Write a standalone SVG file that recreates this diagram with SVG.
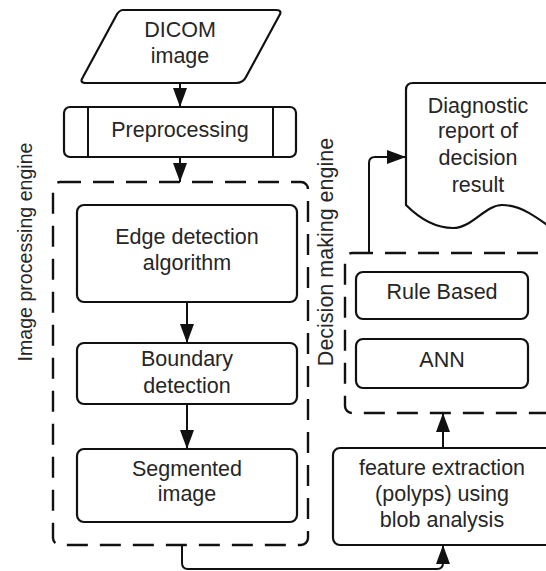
<svg xmlns="http://www.w3.org/2000/svg" width="546" height="571" viewBox="0 0 546 571">
  <defs>
    <marker id="arrow" markerUnits="userSpaceOnUse" markerWidth="20" markerHeight="14" refX="19" refY="7" orient="auto">
      <path d="M0,0 L19,7 L0,14 Z" fill="#111"/>
    </marker>
    <style>
      .shape { fill: #fff; stroke: #111; stroke-width: 2.2; }
      .group { fill: none; stroke: #111; stroke-width: 2.4; stroke-dasharray: 21 12; }
      .edge { fill: none; stroke: #111; stroke-width: 2; }
      .label { font-family: "Liberation Sans", Arial, sans-serif; font-size: 21.5px; fill: #262626; text-anchor: middle; }
      .title { font-family: "Liberation Sans", Arial, sans-serif; font-size: 21.5px; fill: #262626; text-anchor: middle; }
    </style>
  </defs>

  <rect width="546" height="571" fill="#fff"/>

  <!-- engine groups -->
  <g id="image-processing-engine">
    <rect class="group" x="53" y="182" width="255" height="363" rx="7"/>
    <text class="title" transform="translate(32,252) rotate(-90)" style="font-size:19.6px">Image processing engine</text>
  </g>
  <g id="decision-making-engine">
    <rect class="group" x="345" y="253" width="260" height="160" rx="7"/>
    <text class="title" transform="translate(333,252) rotate(-90)">Decision making engine</text>
  </g>

  <!-- nodes -->
  <g id="dicom-image">
    <path class="shape" d="M123,10 H276 Q283,10 279,16 L246,77 Q243,83 236,83 H86 Q79,83 83,77 L116,16 Q119,10 123,10 Z"/>
    <text class="label" x="180" y="37">DICOM</text>
    <text class="label" x="180" y="63">image</text>
  </g>
  <g id="preprocessing">
    <rect class="shape" x="64" y="107" width="232" height="50" rx="6"/>
    <line class="edge" x1="88" y1="107" x2="88" y2="157"/>
    <line class="edge" x1="273" y1="107" x2="273" y2="157"/>
    <text class="label" x="180" y="137">Preprocessing</text>
  </g>
  <g id="edge-detection">
    <rect class="shape" x="77" y="205" width="220" height="97" rx="7"/>
    <text class="label" x="187" y="244">Edge detection</text>
    <text class="label" x="187" y="270">algorithm</text>
  </g>
  <g id="boundary-detection">
    <rect class="shape" x="77" y="343" width="220" height="61" rx="7"/>
    <text class="label" x="187" y="366">Boundary</text>
    <text class="label" x="187" y="393">detection</text>
  </g>
  <g id="segmented-image">
    <rect class="shape" x="77" y="449" width="220" height="73" rx="7"/>
    <text class="label" x="187" y="476">Segmented</text>
    <text class="label" x="187" y="501">image</text>
  </g>
  <g id="feature-extraction">
    <rect class="shape" x="333" y="448" width="260" height="97" rx="7"/>
    <text class="label" x="442" y="475">feature extraction</text>
    <text class="label" x="442" y="501">(polyps) using</text>
    <text class="label" x="442" y="527">blob analysis</text>
  </g>
  <g id="rule-based">
    <rect class="shape" x="356" y="272" width="172" height="47" rx="7"/>
    <text class="label" x="442" y="299">Rule Based</text>
  </g>
  <g id="ann">
    <rect class="shape" x="356" y="339" width="172" height="49" rx="7"/>
    <text class="label" x="442" y="367">ANN</text>
  </g>
  <g id="diagnostic-report">
    <path class="shape" d="M406,205 V90 Q406,83 413,83 H600 V260 L565,238 C538,218 522,205 502,205 C485,205 472,228 453,228 C437,228 421,220 406,205 Z"/>
    <text class="label" x="478" y="113">Diagnostic</text>
    <text class="label" x="478" y="138">report of</text>
    <text class="label" x="478" y="165">decision</text>
    <text class="label" x="478" y="192">result</text>
  </g>

  <!-- connectors -->
  <g id="connectors">
    <path class="edge" d="M180,83 V107" marker-end="url(#arrow)"/>
    <path class="edge" d="M180,157 V182" marker-end="url(#arrow)"/>
    <path class="edge" d="M187,302 V343" marker-end="url(#arrow)"/>
    <path class="edge" d="M187,404 V449" marker-end="url(#arrow)"/>
    <path class="edge" d="M182,545 V563 Q182,569 188,569 H437 Q443,569 443,563 V545" marker-end="url(#arrow)"/>
    <path class="edge" d="M443,448 V413" marker-end="url(#arrow)"/>
    <path class="edge" d="M369,253 V163 Q369,157 375,157 H406" marker-end="url(#arrow)"/>
  </g>
</svg>
